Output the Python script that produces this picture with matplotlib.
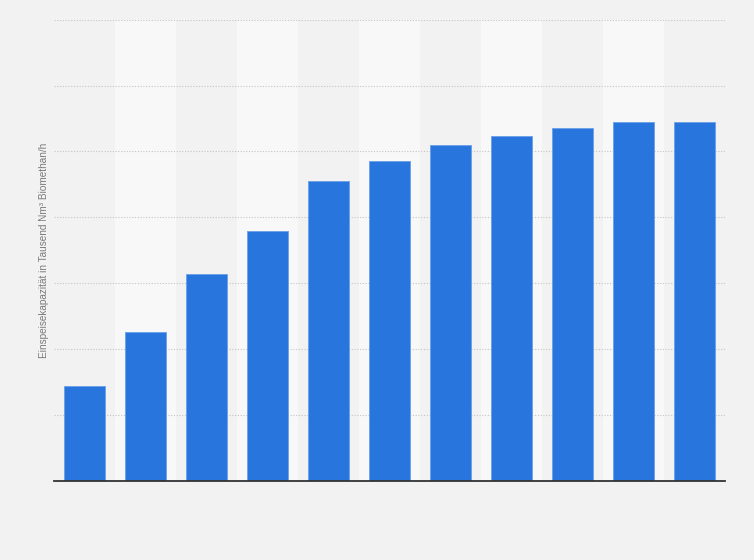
import matplotlib.pyplot as plt

# Einspeisekapazitaet (Tausend Nm3 Biomethan/h)
years = ['2011', '2012', '2013', '2014', '2015', '2016',
         '2017', '2018', '2019', '2020', '2021']
capacity = [28.7, 45.2, 62.8, 75.8, 91.0, 97.1, 101.9, 104.7, 107.1, 108.9, 108.9]
y_ticks = [0, 20, 40, 60, 80, 100, 120, 140]

BG = '#f2f2f2'
BAND = '#f8f8f8'
BAR = '#2876dd'

plt.rcParams['font.family'] = ['Liberation Sans', 'DejaVu Sans']

fig = plt.figure(figsize=(7.54, 5.6), dpi=100, facecolor=BG)
ax = fig.add_axes([0.0716, 0.141, 0.8899, 0.824])
ax.set_facecolor(BG)

x = list(range(len(years)))

# alternating column bands
for i in x:
    if i % 2 == 1:
        ax.axvspan(i - 0.5, i + 0.5, color=BAND, zorder=0, lw=0)

ax.set_axisbelow(True)
ax.yaxis.grid(True, color='#c4c4c4', linestyle=(0, (1, 1.5)), linewidth=0.8)
ax.xaxis.grid(False)

ax.bar(x, capacity, width=0.68, color=BAR, edgecolor='#6a9fe6',
       linewidth=0.6, zorder=3)

ax.set_xlim(-0.5, len(years) - 0.5)
ax.set_ylim(0, 140)
ax.set_yticks(y_ticks)
ax.set_xticks(x)
ax.set_xticklabels([])
ax.set_yticklabels([])
ax.tick_params(length=0)

for side in ['top', 'right', 'left']:
    ax.spines[side].set_visible(False)
ax.spines['bottom'].set_color('#333333')
ax.spines['bottom'].set_linewidth(1.3)
ax.spines['bottom'].set_zorder(4)

ax.set_ylabel('Einspeisekapazität in Tausend Nm³ Biomethan/h',
              fontsize=7.2, color='#7a7a7a')
ax.yaxis.set_label_coords(-0.008, 0.5)

fig.savefig('out.png', dpi=100, facecolor=BG)
